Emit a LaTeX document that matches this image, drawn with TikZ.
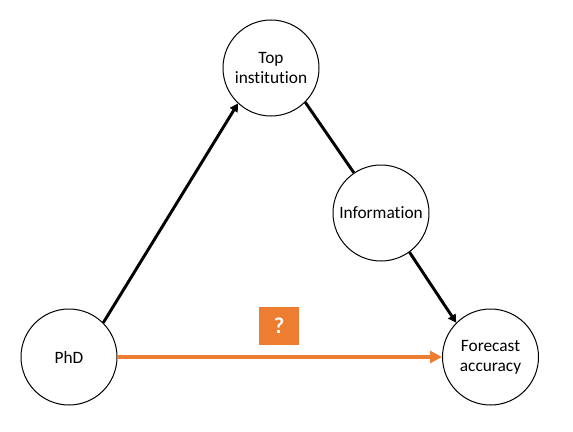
\documentclass[tikz,border=0pt]{standalone}
\usepackage{fontspec}
\setmainfont[Ligatures={NoCommon,NoRequired,NoContextual}]{Carlito}
\usepackage{tikz}
\usetikzlibrary{arrows.meta}
\definecolor{orng}{HTML}{ED7D31}
\tikzstyle{var}=[circle,draw,line width=0.75pt,minimum size=72pt,inner sep=0pt,align=center,font=\fontsize{13}{15}\selectfont]
\tikzstyle{lnk}=[line width=2.2pt]
\tikzstyle{tip}=[-{Triangle[length=6pt,width=6.5pt]}]
\tikzstyle{qbox}=[fill=orng,minimum width=30pt,minimum height=29pt,text=white,font=\fontsize{17}{17}\selectfont\bfseries]

\begin{document}
\begin{tikzpicture}[x=0.75pt,y=-0.75pt]
\useasboundingbox (0, 0) rectangle (573, 431);

\draw (271, 68) node (top) [var] {Top\\institution};
\draw (381, 213) node (info) [var] {Information};
\draw (69, 357) node (phd) [var] {PhD};
\draw (490.5, 357) node (fca) [var] {Forecast\\accuracy};

\draw (phd.45)--(top.227) [lnk, tip];
\draw (top.315)--(info.124) [lnk];
\draw (info.306)--(fca.135) [lnk, tip];
\draw (phd)--(fca) [line width=3pt, orng, -{Triangle[length=9pt,width=9pt]}];

\draw (279, 326) node (q) [qbox] {?};

\end{tikzpicture}
\end{document}
